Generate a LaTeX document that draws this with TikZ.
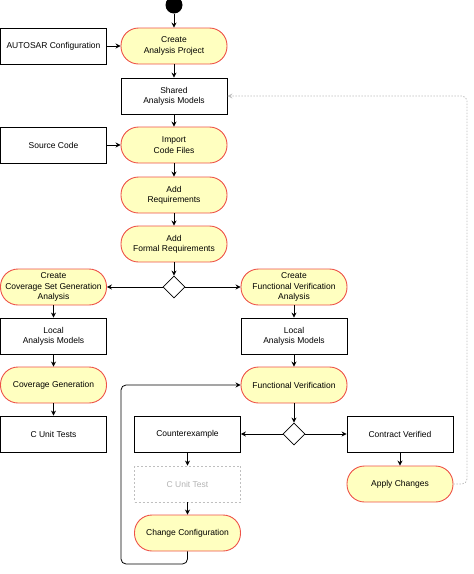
\documentclass[tikz,border=0pt]{standalone}
\usepackage{fontspec}
\setmainfont{Liberation Sans}
\usetikzlibrary{shapes.geometric, arrows.meta}

\definecolor{actfill}{RGB}{255,255,192}
\definecolor{actline}{RGB}{238,82,72}

\begin{document}
\begin{tikzpicture}[x=1pt, y=-1pt,
    font=\fontsize{8.5}{10.3}\selectfont,
    action/.style={draw=actline, fill=actfill, line width=0.9pt, rounded corners=17.5pt,
        minimum width=106pt, minimum height=36pt, inner sep=1pt, align=center},
    artefact/.style={draw, line width=0.8pt, minimum width=106pt, minimum height=36pt,
        inner sep=1pt, align=center},
    choice/.style={draw, diamond, aspect=1, minimum size=22pt, inner sep=0pt, line width=0.8pt},
    flow/.style={-{Stealth[length=5pt, width=5pt]}, line width=0.8pt}]
    \useasboundingbox (0,0) rectangle (474,574);

    % Start and project set-up
    \node[circle, fill=black, minimum size=17pt, inner sep=0pt] (start) at (174,5) {};
    \node[action] (create) at (174,46) {Create\\Analysis Project};
    \node[artefact] (autosar) at (53.5,46) {AUTOSAR Configuration};
    \node[artefact] (shared) at (174,96) {Shared\\Analysis Models};
    \node[action] (import) at (174,145) {Import\\Code Files};
    \node[artefact] (source) at (53.5,145) {Source Code};
    \node[action] (addreq) at (174,195) {Add\\Requirements};
    \node[action] (formal) at (174,244) {Add\\Formal Requirements};
    \node[choice] (split) at (174,287) {};

    % Left branch
    \node[action] (covana) at (53.5,287) {Create\\Coverage Set Generation\\Analysis};
    \node[artefact] (localL) at (53.5,336) {Local\\Analysis Models};
    \node[action] (covgen) at (53.5,385) {Coverage Generation};
    \node[artefact] (tests) at (53.5,434) {C Unit Tests};

    % Right branch
    \node[action] (funcana) at (294,287) {Create\\Functional Verification\\Analysis};
    \node[artefact] (localR) at (294,336) {Local\\Analysis Models};
    \node[action] (funcver) at (294,385) {Functional Verification};
    \node[choice] (check) at (294,434) {};
    \node[artefact] (counter) at (187.5,434) {Counterexample};
    \node[artefact, draw=gray!50, dash pattern=on 2pt off 2pt, text=gray!60] (unittest)
        at (187.5,484) {C Unit Test};
    \node[action] (change) at (187.5,533) {Change Configuration};
    \node[artefact] (verified) at (400,434) {Contract Verified};
    \node[action] (apply) at (400,484) {Apply Changes};

    % Flow
    \draw[flow] (start) -- (create);
    \draw[flow] (autosar) -- (create);
    \draw[flow] (create) -- (shared);
    \draw[flow] (shared) -- (import);
    \draw[flow] (source) -- (import);
    \draw[flow] (import) -- (addreq);
    \draw[flow] (addreq) -- (formal);
    \draw[flow] (formal) -- (split);
    \draw[flow] (split) -- (covana);
    \draw[flow] (split) -- (funcana);
    \draw[flow] (covana) -- (localL);
    \draw[flow] (localL) -- (covgen);
    \draw[flow] (covgen) -- (tests);
    \draw[flow] (funcana) -- (localR);
    \draw[flow] (localR) -- (funcver);
    \draw[flow] (funcver) -- (check);
    \draw[flow] (check) -- (counter);
    \draw[flow] (check) -- (verified);
    \draw[flow] (counter) -- (unittest);
    \draw[flow] (unittest) -- (change);
    \draw[flow] (verified) -- (apply);

    % Loops back
    \coordinate (loopbl) at (121,564);
    \draw[flow, rounded corners=5pt] (change.south) |- (loopbl) |- (funcver.west);
    \coordinate (backtr) at (467,96);
    \draw[-{Stealth[open, length=5pt, width=5pt]}, gray!50, line width=0.8pt,
        dash pattern=on 1.5pt off 1.5pt, rounded corners=5pt]
        (apply.east) -| (backtr) -- (shared.east);
\end{tikzpicture}
\end{document}
